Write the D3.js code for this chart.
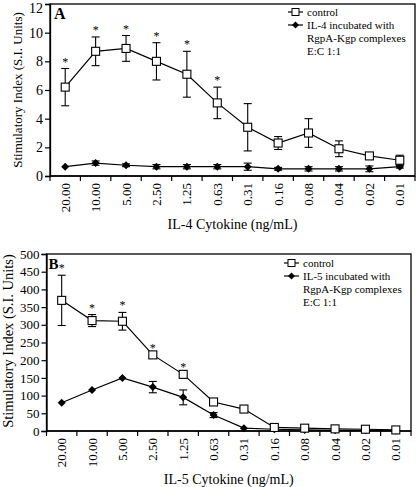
<!DOCTYPE html>
<html><head><meta charset="utf-8">
<script src="https://cdn.jsdelivr.net/npm/d3@7"></script>
<style>
body{margin:0;background:#fff;}
svg{display:block;}
svg text{font-family:"Liberation Serif","Times New Roman",Times,"DejaVu Serif",serif !important;fill:#000;}
</style></head>
<body><svg id="c" width="416" height="487" font-family="Liberation Serif, Times New Roman, serif"></svg>
<script>
const categories = ["20.00","10.00","5.00","2.50","1.25","0.63","0.31","0.16","0.08","0.04","0.02","0.01"];

// Panel A (IL-4)
const aControl    = [6.2, 8.7, 8.9, 8.0, 7.1, 5.1, 3.4, 2.3, 3.0, 1.9, 1.4, 1.1];
const aControlErr = [1.3, 1.0, 0.9, 1.3, 1.6, 1.1, 1.65, 0.45, 1.0, 0.55, 0.2, 0.35];
const aComplex    = [0.65, 0.9, 0.75, 0.65, 0.65, 0.65, 0.65, 0.5, 0.5, 0.5, 0.5, 0.65];
const aComplexErr = [0, 0.15, 0.1, 0.15, 0.15, 0.15, 0.25, 0.1, 0.15, 0.15, 0.2, 0.1];
const aStars      = [1,1,1,1,1,1,0,0,0,0,0,0];
const aTicks      = [0,2,4,6,8,10,12];

// Panel B (IL-5)
const bControl    = [369, 312, 310, 215, 160, 82, 62, 10, 8, 6, 5, 3];
const bControlErr = [71, 17, 25, 0, 0, 0, 0, 0, 0, 0, 0, 0];
const bComplex    = [80, 116, 150, 124, 95, 45, 8, 5, 3, 2, 2, 1];
const bComplexErr = [0, 0, 0, 16, 21, 7, 0, 0, 0, 0, 0, 0];
const bStars      = [1,1,1,1,1,0,0,0,0,0,0,0];
const bTicks      = [0,50,100,150,200,250,300,350,400,450,500];

const svg = d3.select("#c");
const FF = "Liberation Serif, Times New Roman, serif";

function panel(o){
  const g = svg.append("g").attr("font-family",FF);
  const x = d3.scaleBand().domain(categories).range([o.left,o.right]);
  const y = d3.scaleLinear().domain([0,o.max]).range([o.bottom,o.top]);
  const cx = c => x(c) + x.bandwidth()/2;

  // frame
  g.append("rect").attr("x",o.left).attr("y",o.top).attr("width",o.right-o.left).attr("height",o.bottom-o.top)
    .attr("fill","none").attr("stroke","#000").attr("stroke-width",1.3);

  // y axis
  const ya = g.append("g").attr("transform",`translate(${o.left},0)`)
    .call(d3.axisLeft(y).tickValues(o.ticks).tickSize(5).tickPadding(2).tickFormat(d3.format("d")));
  ya.attr("font-family",FF);
  ya.select(".domain").attr("stroke-width",1.3);
  ya.selectAll("text").attr("font-size",o.yfs).attr("fill","#000");
  ya.selectAll("line").attr("stroke-width",1.2);
  if(o.nudgeTop){
    ya.selectAll(".tick").filter(d=>d===o.max).select("text").attr("dy","0.6em");
  }

  // x axis ticks between categories
  const xa = g.append("g").attr("transform",`translate(0,${o.bottom})`);
  xa.append("line").attr("x1",o.left).attr("x2",o.right).attr("y1",0).attr("y2",0).attr("stroke","#000").attr("stroke-width",1.3);
  d3.range(categories.length+1).forEach(i=>{
    const px = o.left + i*x.step();
    xa.append("line").attr("x1",px).attr("x2",px).attr("y1",0).attr("y2",5).attr("stroke","#000").attr("stroke-width",1.2);
  });
  categories.forEach(c=>{
    xa.append("text").attr("transform",`translate(${cx(c)+4.5},7) rotate(-90)`)
      .attr("text-anchor","end").attr("font-size",13).text(c);
  });

  const line = d3.line().x((d,i)=>cx(categories[i])).y(d=>y(d));

  function series(vals, errs, kind){
    g.append("path").datum(vals).attr("d",line).attr("fill","none").attr("stroke","#000").attr("stroke-width",1.2);
    vals.forEach((v,i)=>{
      const e = errs[i]; if(!e) return;
      const px = cx(categories[i]);
      g.append("line").attr("x1",px).attr("x2",px).attr("y1",y(v+e)).attr("y2",y(v-e)).attr("stroke","#000").attr("stroke-width",1.1);
      [v+e,v-e].forEach(t=>g.append("line").attr("x1",px-4).attr("x2",px+4).attr("y1",y(t)).attr("y2",y(t)).attr("stroke","#000").attr("stroke-width",1.1));
    });
    vals.forEach((v,i)=>{
      const px = cx(categories[i]), py = y(v);
      if(kind==="sq"){
        g.append("rect").attr("x",px-4).attr("y",py-4).attr("width",8).attr("height",8)
          .attr("fill","#fff").attr("stroke","#000").attr("stroke-width",1.1);
      } else {
        g.append("path").attr("d",`M${px},${py-4}L${px+4},${py}L${px},${py+4}L${px-4},${py}Z`).attr("fill","#000");
      }
    });
  }
  series(o.complex, o.complexErr, "dia");
  series(o.control, o.controlErr, "sq");

  // asterisks
  o.control.forEach((v,i)=>{
    if(!o.stars[i]) return;
    g.append("text").attr("x",cx(categories[i])).attr("y",y(v+o.controlErr[i])-3)
      .attr("text-anchor","middle").attr("font-size",12).attr("fill","#000").text("*");
  });

  // panel letter
  g.append("text").attr("x",o.letX).attr("y",o.top+15).attr("font-size",o.letFs).attr("font-weight","bold").text(o.letter);

  // legend
  const lx = o.legX, ly = o.legY;
  g.append("line").attr("x1",lx).attr("x2",lx+15).attr("y1",ly).attr("y2",ly).attr("stroke","#000").attr("stroke-width",1.2);
  g.append("rect").attr("x",lx+4).attr("y",ly-3.5).attr("width",7).attr("height",7).attr("fill","#fff").attr("stroke","#000");
  g.append("text").attr("x",lx+19).attr("y",ly+4).attr("font-size",11).text("control");
  const l2 = ly+13;
  g.append("line").attr("x1",lx).attr("x2",lx+15).attr("y1",l2).attr("y2",l2).attr("stroke","#000").attr("stroke-width",1.2);
  g.append("path").attr("d",`M${lx+7.5},${l2-3.5}L${lx+11},${l2}L${lx+7.5},${l2+3.5}L${lx+4},${l2}Z`).attr("fill","#000");
  g.append("text").attr("x",lx+19).attr("y",l2+4).attr("font-size",11).text(o.legText);
  g.append("text").attr("x",lx+19).attr("y",l2+17).attr("font-size",11).text("RgpA-Kgp complexes");
  g.append("text").attr("x",lx+19).attr("y",l2+30).attr("font-size",11).text("E:C 1:1");

  // axis titles
  g.append("text").attr("transform",`translate(${o.ytX},${o.ytY}) rotate(-90)`)
    .attr("text-anchor","middle").attr("font-size",o.ytFs).text("Stimulatory Index (S.I. Units)");
  g.append("text").attr("x",(o.left+o.right)/2).attr("y",o.xtY).attr("text-anchor","middle").attr("font-size",14).text(o.xTitle);
}

panel({left:50,right:415,top:4,bottom:176,max:12,ticks:aTicks,yfs:14,nudgeTop:true,
  control:aControl,controlErr:aControlErr,complex:aComplex,complexErr:aComplexErr,stars:aStars,
  letter:"A",letX:54,letFs:16,legX:288,legY:12,legText:"IL-4 incubated with",
  ytX:22,ytY:90,ytFs:13,xtY:229,xTitle:"IL-4 Cytokine (ng/mL)"});

panel({left:46.5,right:411,top:254,bottom:431,max:500,ticks:bTicks,yfs:13,
  control:bControl,controlErr:bControlErr,complex:bComplex,complexErr:bComplexErr,stars:bStars,
  letter:"B",letX:48.5,letFs:15,legX:284,legY:263,legText:"IL-5 incubated with",
  ytX:13,ytY:341,ytFs:14.5,xtY:484,xTitle:"IL-5 Cytokine (ng/mL)"});
</script></body></html>
